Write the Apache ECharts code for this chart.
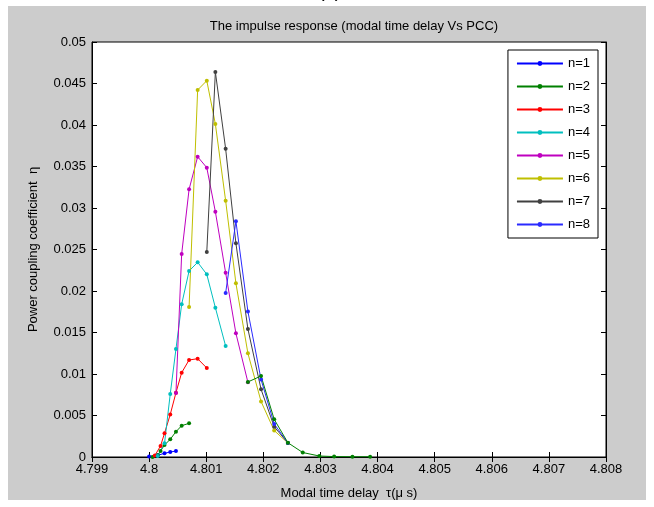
<!DOCTYPE html>
<html style="height: 100%">

<head>
	<meta charset="utf-8">
</head>

<body style="height: 100%; margin: 0; background: #fff">
	<div id="container" style="width: 654px; height: 507px"></div>
	<script type="text/javascript" src="https://cdn.jsdelivr.net/npm/echarts@6/dist/echarts.min.js"></script>
	<script type="text/javascript">
		// modal time delay grid (us), shared by all series
		let tau = [4.8, 4.80006, 4.8001, 4.80015, 4.8002, 4.80027, 4.80037, 4.80047, 4.80057, 4.8007,
			4.80085, 4.80101, 4.80116, 4.80134, 4.80152, 4.80173, 4.80196, 4.80219, 4.80243, 4.80269,
			4.80298, 4.80324, 4.80356, 4.80387];

		// power coupling coefficient per mode, null = no point at that delay
		let eta1 = [0.00005, null, null, 0.0002, null, 0.00045, 0.0006, 0.00072];
		let eta2a = [null, 0.0, null, 0.0002, 0.00072, 0.00145, 0.00213, 0.00305, 0.00377, 0.00406];
		let eta2b = [null, null, null, null, null, null, null, null, null, null, null, null, null, null, null,
			0.00904, 0.00976, 0.00454, 0.00172, 0.00054, 0.00012, 0.00005, 0.00003, 0.00003];
		let eta3 = [null, null, 0.00018, null, 0.00133, 0.00286, 0.00512, 0.00775, 0.01016, 0.01169, 0.01184, 0.01072];
		let eta4 = [null, null, null, 0.00012, null, 0.00165, 0.00759, 0.01301, 0.0184, 0.02241, 0.02346, 0.02201,
			0.01799, 0.01337];
		let eta5 = [null, null, null, null, null, null, null, 0.00771, 0.02446, 0.03225, 0.03618, 0.03486,
			0.02955, 0.0222, 0.0149, 0.009];
		let eta6 = [null, null, null, null, null, null, null, null, null, 0.01807, 0.04422, 0.04534,
			0.04012, 0.03088, 0.02093, 0.01249, 0.00669, 0.00319, 0.00169];
		let eta7 = [null, null, null, null, null, null, null, null, null, null, null, 0.0247,
			0.04639, 0.03714, 0.02575, 0.01542, 0.00816, 0.00365, 0.00169];
		let eta8 = [null, null, null, null, null, null, null, null, null, null, null, null,
			null, 0.01976, 0.0284, 0.01753, 0.00934, 0.00398, 0.00169];

		let names = ['n=1', 'n=2', 'n=3', 'n=4', 'n=5', 'n=6', 'n=7', 'n=8'];
		let colors = ['#0000ff', '#008000', '#ff0000', '#00bfbf', '#bf00bf', '#bfbf00', '#404040', '#2a2aff'];

		let xTicks = [4.799, 4.8, 4.801, 4.802, 4.803, 4.804, 4.805, 4.806, 4.807, 4.808];
		let yTicks = [0, 0.005, 0.01, 0.015, 0.02, 0.025, 0.03, 0.035, 0.04, 0.045, 0.05];

		let dom = document.getElementById("container");
		let myChart = echarts.init(dom);

		function pairs(arr) {
			let out = [];
			for (let i = 0; i < arr.length; i++) {
				if (arr[i] !== null) out.push([tau[i], arr[i]]);
			}
			return out;
		}

		function makeSeries(name, color, arr) {
			return {
				name: name,
				type: 'line',
				color: color,
				symbol: 'circle',
				symbolSize: 4,
				lineStyle: { width: 1, color: color },
				itemStyle: { color: color },
				data: pairs(arr)
			};
		}

		let font = 'Liberation Sans, Arial, sans-serif';
		let fmt = function (v) { return String(+v.toFixed(3)); };

		let option = {
			animation: false,
			textStyle: { fontFamily: font },
			graphic: [
				{ type: 'rect', z: -10, shape: { x: 8, y: 6, width: 638, height: 494 }, style: { fill: '#cccccc' } },
				{ type: 'text', z: -5, left: 318, top: -19, style: { text: '(c)', font: '20px Liberation Sans', fill: '#000' } }
			],
			title: {
				text: 'The impulse response (modal time delay Vs PCC)',
				left: 349,
				textAlign: 'center',
				top: 15,
				textStyle: { fontSize: 13, fontWeight: 'normal', color: '#000', fontFamily: font }
			},
			legend: {
				orient: 'vertical',
				right: 56,
				top: 50,
				padding: [7, 8, 7, 8],
				itemWidth: 46,
				itemHeight: 6,
				itemGap: 10,
				backgroundColor: '#fff',
				borderColor: '#000',
				borderWidth: 1,
				textStyle: { fontSize: 13, color: '#000', fontFamily: font },
				data: names
			},
			grid: {
				left: 92, right: 48, top: 42, bottom: 50,
				show: true, backgroundColor: '#fff', borderColor: '#000', borderWidth: 1
			},
			xAxis: [
				{
					type: 'value',
					min: xTicks[0], max: xTicks[xTicks.length - 1], interval: 0.001,
					name: 'Modal time delay  \u03c4(\u03bc s)',
					nameLocation: 'middle', nameGap: 30,
					nameTextStyle: { fontSize: 13, color: '#000' },
					axisLine: { lineStyle: { color: '#000' } },
					axisTick: { inside: true, length: 5, lineStyle: { color: '#000' } },
					axisLabel: { formatter: fmt, color: '#000', fontSize: 13, margin: 6 },
					splitLine: { show: false }
				},
				{
					type: 'value', position: 'top',
					min: xTicks[0], max: xTicks[xTicks.length - 1], interval: 0.001,
					axisLine: { lineStyle: { color: '#000' } },
					axisTick: { inside: true, length: 5, lineStyle: { color: '#000' } },
					axisLabel: { show: false },
					splitLine: { show: false }
				}
			],
			yAxis: [
				{
					type: 'value',
					min: 0, max: yTicks[yTicks.length - 1], interval: 0.005,
					name: 'Power coupling coefficient  \u03b7',
					nameLocation: 'middle', nameGap: 52,
					nameTextStyle: { fontSize: 13, color: '#000' },
					axisLine: { show: true, lineStyle: { color: '#000' } },
					axisTick: { show: true, inside: true, length: 5, lineStyle: { color: '#000' } },
					axisLabel: { formatter: fmt, color: '#000', fontSize: 13, margin: 6 },
					splitLine: { show: false }
				},
				{
					type: 'value', position: 'right',
					min: 0, max: yTicks[yTicks.length - 1], interval: 0.005,
					axisLine: { show: true, lineStyle: { color: '#000' } },
					axisTick: { show: true, inside: true, length: 5, lineStyle: { color: '#000' } },
					axisLabel: { show: false },
					splitLine: { show: false }
				}
			],
			series: [
				makeSeries(names[0], colors[0], eta1),
				makeSeries(names[1], colors[1], eta2a),
				makeSeries(names[2], colors[2], eta3),
				makeSeries(names[3], colors[3], eta4),
				makeSeries(names[4], colors[4], eta5),
				makeSeries(names[5], colors[5], eta6),
				makeSeries(names[6], colors[6], eta7),
				makeSeries(names[7], colors[7], eta8),
				makeSeries(names[1], colors[1], eta2b)
			]
		};

		myChart.setOption(option);
	</script>
</body>

</html>
